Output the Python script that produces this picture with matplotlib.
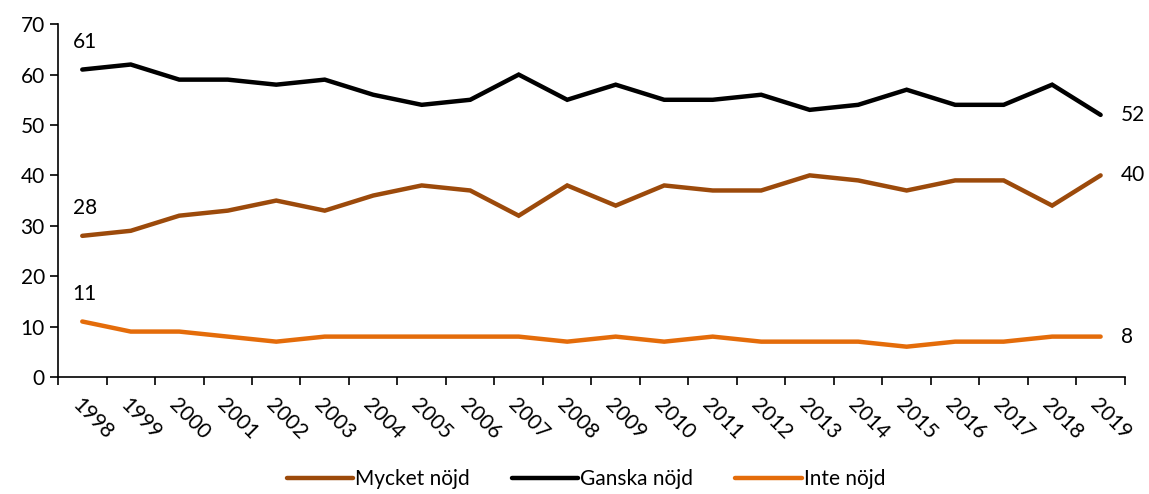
import matplotlib.pyplot as plt
import numpy as np

plt.rcParams['font.family'] = ['Lato', 'DejaVu Sans']

years = ['1998', '1999', '2000', '2001', '2002', '2003', '2004', '2005', '2006', '2007', '2008',
         '2009', '2010', '2011', '2012', '2013', '2014', '2015', '2016', '2017', '2018', '2019']
mycket = [28, 29, 32, 33, 35, 33, 36, 38, 37, 32, 38, 34, 38, 37, 37, 40, 39, 37, 39, 39, 34, 40]
ganska = [61, 62, 59, 59, 58, 59, 56, 54, 55, 60, 55, 58, 55, 55, 56, 53, 54, 57, 54, 54, 58, 52]
inte = [11, 9, 9, 8, 7, 8, 8, 8, 8, 8, 7, 8, 7, 8, 7, 7, 7, 6, 7, 7, 8, 8]


def main():
    fig = plt.figure(figsize=(11.49, 4.94), dpi=100)
    ax = fig.add_axes([0.0505, 0.237, 0.9285, 0.714])

    x = np.arange(len(years))
    series = [(mycket, '#9C4A0B', 'Mycket nöjd'),
              (ganska, 'black', 'Ganska nöjd'),
              (inte, '#E46C0A', 'Inte nöjd')]
    for vals, col, lab in series:
        ax.plot(x, vals, color=col, lw=3.2, label=lab, solid_capstyle='round', solid_joinstyle='miter')
        ax.text(x[0] - 0.2, vals[0] + 5.5, str(vals[0]), fontsize=15, ha='left', va='center')
        ax.text(x[-1] + 0.42, vals[-1], str(vals[-1]), fontsize=15, ha='left', va='center')

    ax.set_ylim(0, 70)
    ax.set_yticks(range(0, 71, 10))
    ax.set_xlim(-0.5, len(years) - 0.5)
    ax.set_xticks(np.arange(-0.5, len(years), 1))
    ax.set_xticklabels([])
    ax.set_xticks(x, minor=True)
    ax.set_xticklabels(years, minor=True, rotation=-45, ha='left', va='top', rotation_mode='anchor')
    ax.tick_params(axis='x', which='minor', length=0, pad=13, labelsize=15)
    ax.tick_params(axis='x', which='major', length=6, width=1.2)
    ax.tick_params(axis='y', length=6, width=1.2, labelsize=15)

    for s in ['top', 'right']:
        ax.spines[s].set_visible(False)
    for s in ['left', 'bottom']:
        ax.spines[s].set_linewidth(1.2)

    fig.legend(loc='center', bbox_to_anchor=(0.51, 0.03), ncol=3, frameon=False,
               fontsize=15, handlelength=3.2, handletextpad=0.1, columnspacing=2.0)

    fig.savefig('out.png', dpi=100)


if __name__ == '__main__':
    main()
